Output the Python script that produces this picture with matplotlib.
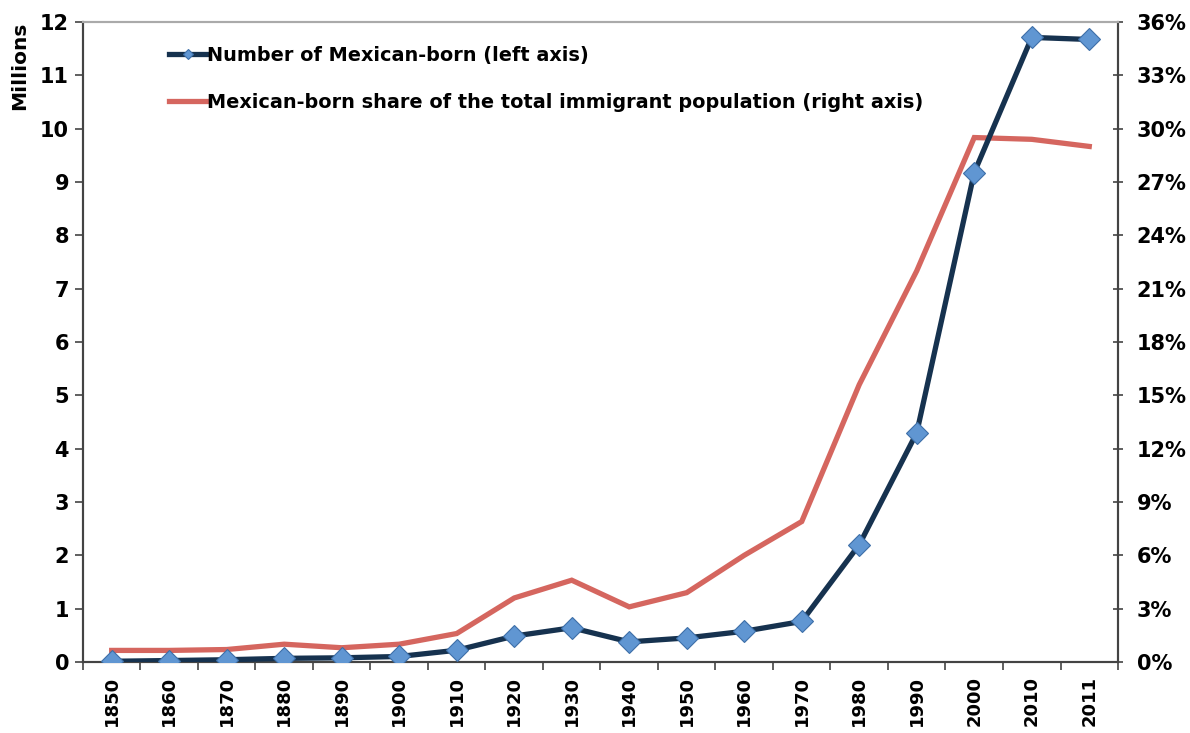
import numpy as np
import matplotlib
matplotlib.use('Agg')
import matplotlib.pyplot as plt
from matplotlib.ticker import FuncFormatter

plt.rcParams['font.family'] = ['DejaVu Sans']
plt.rcParams['font.weight'] = 'bold'

years = ['1850', '1860', '1870', '1880', '1890', '1900', '1910', '1920', '1930',
         '1940', '1950', '1960', '1970', '1980', '1990', '2000', '2010', '2011']
# Number of Mexican-born, millions (left axis)
mexican_born = [0.013, 0.027, 0.042, 0.068, 0.078, 0.103, 0.22, 0.486, 0.641,
                0.377, 0.451, 0.576, 0.760, 2.199, 4.298, 9.177, 11.711, 11.672]
# Mexican-born share of total immigrant population, % (right axis)
share = [0.65, 0.65, 0.7, 1.0, 0.8, 1.0, 1.6, 3.6, 4.6,
         3.1, 3.9, 6.0, 7.9, 15.6, 22.0, 29.5, 29.4, 29.0]

navy = '#16324f'
diamond = '#6096d2'
red = '#d5665f'

fig = plt.figure(figsize=(11.9, 7.33), dpi=100)
ax = fig.add_axes([0.0697, 0.0969, 0.8698, 0.8731])
ax2 = ax.twinx()

x = np.arange(len(years))
l2, = ax2.plot(x, share, color=red, lw=3.8, solid_joinstyle='miter', zorder=2)
l1, = ax.plot(x, mexican_born, color=navy, lw=3.8, marker='D', markersize=11.5,
              markerfacecolor=diamond, markeredgecolor='#3d6fa8', markeredgewidth=0.8,
              zorder=3)
ax.set_zorder(ax2.get_zorder() + 1)
ax.patch.set_visible(False)

ax.set_xlim(-0.5, len(years) - 0.5)
ax.set_ylim(0, 12)
ax2.set_ylim(0, 36)

ax.set_yticks(range(0, 13))
ax2.set_yticks(range(0, 37, 3))
ax2.yaxis.set_major_formatter(FuncFormatter(lambda v, p: '%d%%' % v))

ax.set_xticks(x)
ax.set_xticklabels(years, rotation=90)
ax.set_xticks(np.arange(-0.5, len(years)), minor=True)
ax.tick_params(axis='x', which='major', length=0, pad=10, labelsize=13)
ax.tick_params(axis='x', which='minor', length=6, width=1.2, direction='out', color='#444444')
ax.tick_params(axis='y', length=6, width=1.2, direction='out', color='#444444',
               labelsize=15, pad=4)
ax2.tick_params(axis='y', length=7, width=1.2, direction='inout', color='#444444',
                labelsize=15, pad=10)

for a in (ax, ax2):
    for s in ('left', 'bottom', 'right'):
        a.spines[s].set_color('#444444')
        a.spines[s].set_linewidth(1.5)
    a.spines['top'].set_color('#aaaaaa')
    a.spines['top'].set_linewidth(1.5)

ax.set_ylabel('Millions', loc='top', fontsize=14.5, fontweight='bold')
ax.yaxis.set_label_coords(-0.052, 1.0)

leg = ax.legend([l1, l2],
                ['Number of Mexican-born (left axis)',
                 'Mexican-born share of the total immigrant population (right axis)'],
                loc='upper left', bbox_to_anchor=(0.066, 0.99), frameon=False,
                fontsize=13.9, handlelength=2.0, handletextpad=0.0, labelspacing=1.45,
                markerscale=0.45)
for t in leg.get_texts():
    t.set_fontweight('bold')

fig.savefig('out.png', dpi=100)
